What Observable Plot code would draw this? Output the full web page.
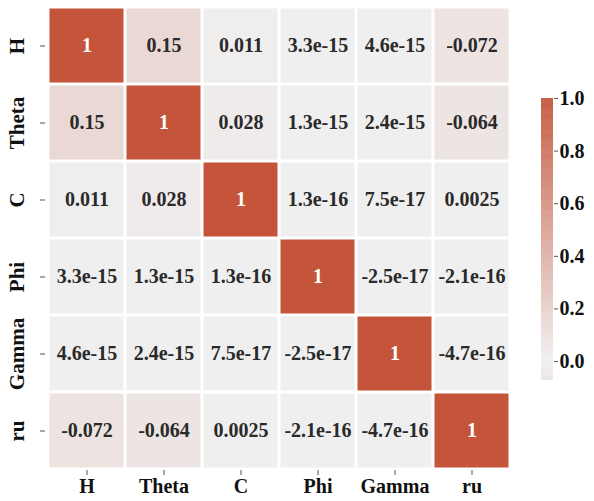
<!DOCTYPE html>
<html><head><meta charset="utf-8">
<script src="https://cdn.jsdelivr.net/npm/d3@7"></script>
<script src="https://cdn.jsdelivr.net/npm/@observablehq/plot@0.6"></script>
<style>
body{margin:0;background:#fff;}
#wrap{position:relative;width:594px;height:501px;}
#wrap > svg{position:absolute;top:0;}
</style></head><body><div id="wrap"></div>
<script>
const variables = ["H","Theta","C","Phi","Gamma","ru"];
const rowH     = [1, 0.15, 0.011, 3.3e-15, 4.6e-15, -0.072];
const rowTheta = [0.15, 1, 0.028, 1.3e-15, 2.4e-15, -0.064];
const rowC     = [0.011, 0.028, 1, 1.3e-16, 7.5e-17, 0.0025];
const rowPhi   = [3.3e-15, 1.3e-15, 1.3e-16, 1, -2.5e-17, -2.1e-16];
const rowGamma = [4.6e-15, 2.4e-15, 7.5e-17, -2.5e-17, 1, -4.7e-16];
const rowRu    = [-0.072, -0.064, 0.0025, -2.1e-16, -4.7e-16, 1];
const matrix = [rowH, rowTheta, rowC, rowPhi, rowGamma, rowRu];
const colorbarTicks = [0, 0.2, 0.4, 0.6, 0.8, 1.0];

const data = [];
matrix.forEach((row, i) => row.forEach((v, j) => data.push({row: variables[i], col: variables[j], value: v})));
const vmin = d3.min(data, d => d.value), vmax = d3.max(data, d => d.value);

const loc = d3.formatLocale({decimal: ".", thousands: ",", grouping: [3], currency: ["", ""], minus: "-"});
const fmt = loc.format(".2~g");

const FONT = "'Liberation Serif', 'Times New Roman', serif";
const colorOpts = {type: "linear", domain: [-1, 0, 1], range: ["#c4553a", "#f0efef", "#c4553a"], interpolate: "rgb"};

const main = Plot.plot({
  width: 520, height: 501,
  marginLeft: 45, marginRight: 8, marginTop: 5, marginBottom: 31,
  x: {domain: variables, padding: 0, label: null},
  y: {domain: variables, padding: 0, label: null},
  color: colorOpts,
  style: {fontSize: "20px", background: "white", color: "#111"},
  marks: [
    Plot.cell(data, {x: "col", y: "row", fill: "value", inset: 1.5}),
    Plot.text(data.filter(d => d.value > 0.5), {x: "col", y: "row", text: d => fmt(d.value), fill: "white", fontSize: 20, fontWeight: "bold"}),
    Plot.text(data.filter(d => d.value <= 0.5), {x: "col", y: "row", text: d => fmt(d.value), fill: "#2a2a2a", fontSize: 20, fontWeight: "bold"}),
    Plot.axisX({anchor: "bottom", tickSize: 5, tickPadding: 3, label: null, fontSize: 20, stroke: "#555"}),
    Plot.axisY({anchor: "left", tickSize: 5, tickPadding: 17, tickRotate: -90, label: null, fontSize: 21, stroke: "#555"})
  ]
});
document.getElementById("wrap").appendChild(main);

const step = 0.002;
const steps = d3.range(vmin, vmax, step);
const bar = Plot.plot({
  width: 74, height: 501,
  marginLeft: 21, marginRight: 41, marginTop: 98, marginBottom: 121,
  x: {domain: [0, 1], axis: null},
  y: {domain: [vmin, vmax], label: null},
  color: colorOpts,
  style: {fontSize: "20px", background: "transparent", color: "#111"},
  marks: [
    Plot.rect(steps, {x1: 0, x2: 1, y1: d => d, y2: d => Math.min(vmax, d + step * 1.6), fill: d => d}),
    Plot.axisY({anchor: "right", ticks: colorbarTicks, tickFormat: ".1f", tickSize: 4, tickPadding: 2, label: null, fontSize: 20, stroke: "#555"})
  ]
});
bar.style.left = "520px";
document.getElementById("wrap").appendChild(bar);

// serif bold font for all chart text
for (const svg of [main, bar]) {
  svg.setAttribute("font-family", FONT);
  svg.setAttribute("font-weight", "bold");
  svg.querySelectorAll("g, text").forEach(el => {
    el.setAttribute("font-family", FONT);
    el.style.setProperty("font-weight", "bold");
  });
}
</script></body></html>
